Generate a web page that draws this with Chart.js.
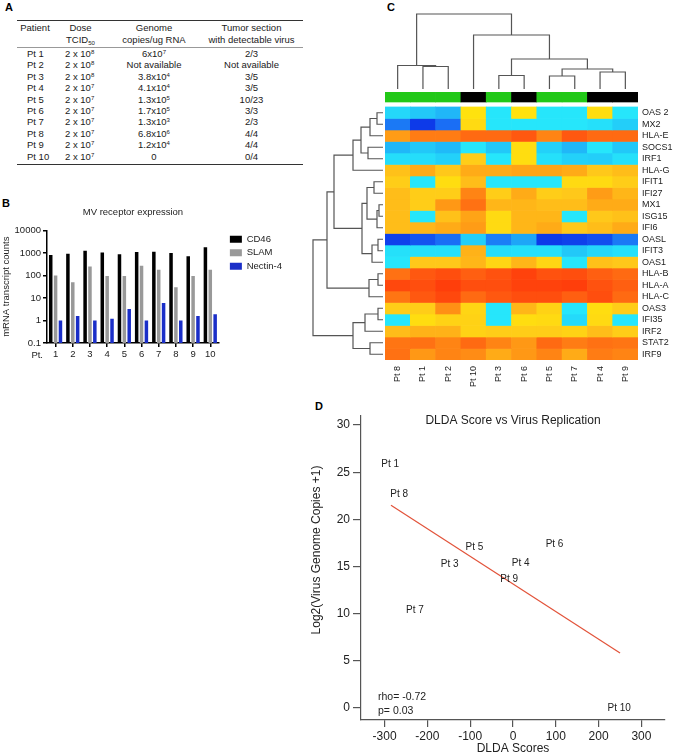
<!DOCTYPE html>
<html>
<head>
<meta charset="utf-8">
<title>Measles virus replication figure</title>
<script src="https://cdn.jsdelivr.net/npm/chart.js@4.4.1/dist/chart.umd.min.js"></script>
<style>
  body { margin: 0; background: #fff; }
  #page { position: relative; width: 675px; height: 756px; overflow: hidden; font-family: "Liberation Sans", Arial, sans-serif; color: #222; }
  #page canvas { position: absolute; }
  .panel { position: absolute; font-weight: bold; font-size: 11px; line-height: 12px; color: #000; }
  #tbl { position: absolute; left: 17px; top: 20px; width: 286px; border-collapse: collapse; font-size: 9.5px; table-layout: fixed; color: #1a1a1a; }
  #tbl th { font-weight: normal; vertical-align: top; line-height: 12px; padding: 1px 0; border-top: 1.5px solid #333; border-bottom: 1px solid #999; text-align: center; }
  #tbl td { height: 11.4px; line-height: 11.4px; padding: 0; text-align: center; white-space: nowrap; }
  #tbl td.pt { text-align: left; padding-left: 10px; }
  #tbl td.dose { text-align: left; padding-left: 12px; }
  #tbl tbody tr:last-child td { border-bottom: 1.5px solid #333; padding-bottom: 2px; }
  #tbl sup { font-size: 6px; vertical-align: 3px; line-height: 0; }
  #tbl sub { font-size: 6px; vertical-align: -2px; line-height: 0; }
</style>
</head>
<body>
<div id="page">
  <div class="panel" style="left:5px;top:1px">A</div>
  <div class="panel" style="left:2px;top:197px">B</div>
  <div class="panel" style="left:387px;top:1px">C</div>
  <div class="panel" style="left:315px;top:400px">D</div>

  <table id="tbl">
    <colgroup><col style="width:36px"><col style="width:55px"><col style="width:92px"><col style="width:103px"></colgroup>
    <thead><tr>
      <th>Patient</th>
      <th>Dose<br>TCID<sub>50</sub></th>
      <th>Genome<br>copies/ug RNA</th>
      <th>Tumor section<br>with detectable virus</th>
    </tr></thead>
    <tbody></tbody>
  </table>

  <canvas id="cB" width="285" height="163" style="left:0;top:200px"></canvas>
  <canvas id="cTop" width="253" height="77" style="left:385px;top:12px"></canvas>
  <canvas id="cLeft" width="72" height="253" style="left:311px;top:107px"></canvas>
  <canvas id="cHeat" width="290" height="300" style="left:385px;top:92px"></canvas>
  <canvas id="cD" width="375" height="351" style="left:300px;top:405px"></canvas>
</div>

<script>
// ---------- A: patient table ----------
const patients = ['Pt 1', 'Pt 2', 'Pt 3', 'Pt 4', 'Pt 5', 'Pt 6', 'Pt 7', 'Pt 8', 'Pt 9', 'Pt 10'];
const doses = ['2 x 10^8', '2 x 10^8', '2 x 10^8', '2 x 10^7', '2 x 10^7', '2 x 10^7', '2 x 10^7', '2 x 10^7', '2 x 10^7', '2 x 10^7'];
const genomeCopies = ['6x10^7', 'Not available', '3.8x10^4', '4.1x10^4', '1.3x10^5', '1.7x10^5', '1.3x10^3', '6.8x10^6', '1.2x10^4', '0'];
const tumorSections = ['2/3', 'Not available', '3/5', '3/5', '10/23', '3/3', '2/3', '4/4', '4/4', '0/4'];

// ---------- B: MV receptor expression ----------
const receptorPts = ['1', '2', '3', '4', '5', '6', '7', '8', '9', '10'];
const cd46 = [800, 920, 1250, 1050, 880, 1100, 1120, 980, 720, 1800];
const slam = [100, 50, 250, 95, 95, 270, 180, 30, 95, 180];
const nectin4 = [1.0, 1.6, 1.0, 1.2, 3.2, 1.0, 6.0, 1.0, 1.6, 1.9];
const receptorTicks = [0.1, 1, 10, 100, 1000, 10000];

// ---------- C: heatmap ----------
const hmCols = ['Pt 8', 'Pt 1', 'Pt 2', 'Pt 10', 'Pt 3', 'Pt 6', 'Pt 5', 'Pt 7', 'Pt 4', 'Pt 9'];
const hmGroup = [1, 1, 1, 0, 1, 0, 1, 1, 0, 0]; // 1 = green, 0 = black
const genes = ['OAS 2', 'MX2', 'HLA-E', 'SOCS1', 'IRF1', 'HLA-G', 'IFIT1', 'IFI27', 'MX1', 'ISG15', 'IFI6',
               'OASL', 'IFIT3', 'OAS1', 'HLA-B', 'HLA-A', 'HLA-C', 'OAS3', 'IFI35', 'IRF2', 'STAT2', 'IRF9'];
// relative expression, 0 = low (blue) .. 10 = high (red), columns in hmCols order
const heatValues = [
  [3.5, 3, 2.5, 5, 4, 5, 4, 4, 5.2, 4],            // OAS 2
  [1.2, 0.2, 1, 5.3, 4, 4, 4, 4, 3.8, 3.2],        // MX2
  [7.2, 8, 8, 8.5, 8.5, 9, 7.8, 9, 8.5, 8.5],      // HLA-E
  [2.5, 3, 2.6, 4, 3, 5.2, 3.3, 2.5, 4, 3],        // SOCS1
  [3.7, 3.7, 3.3, 5.8, 4, 5.2, 3.8, 3.3, 3.2, 3.8],// IRF1
  [6.2, 6.8, 6, 6.8, 6.8, 7, 7, 6.8, 6, 6.3],      // HLA-G
  [5.8, 4, 5.2, 6.3, 4, 4, 4, 5.3, 5.3, 5.8],      // IFIT1
  [6.3, 5.8, 5.8, 7.8, 5.8, 6.8, 5.8, 6, 7.2, 6.5],// IFI27
  [6.3, 5.8, 7.3, 8.3, 6.5, 6.5, 6.3, 6.3, 6.8, 6.8], // MX1
  [6.3, 4, 6.2, 7, 5.3, 6.5, 6.5, 4, 6, 6.2],      // ISG15
  [6.3, 6.5, 6.8, 7.2, 5.3, 6.5, 6.8, 6, 6.3, 6.8],// IFI6
  [0.3, 0.6, 1, 3.2, 1.3, 2, 0.2, 0.3, 0.5, 1.2],  // OASL
  [3.8, 3.8, 3.8, 6.6, 3.7, 3.8, 3.8, 3, 3.5, 3.8],// IFIT3
  [4, 6, 6, 6.5, 5.5, 6.5, 5.5, 4, 6.2, 6],        // OAS1
  [8.3, 9, 9.3, 8.8, 9.2, 9.7, 9.2, 9.3, 8.8, 8.5],// HLA-B
  [9.5, 9.3, 9.8, 9.3, 9.3, 9.7, 9.7, 9.8, 9.2, 8.8], // HLA-A
  [8.2, 9, 9.5, 8.5, 9, 9.3, 9.3, 8.8, 9.3, 8.5],  // HLA-C
  [5.8, 5.8, 7.5, 5.5, 4, 6.5, 5.6, 4, 5.2, 5.8],  // OAS3
  [4, 5.2, 5.6, 5.6, 4, 5.2, 5.3, 3.6, 5.3, 4],    // IFI35
  [6.3, 6.6, 6.6, 5.6, 5.8, 5.8, 5.8, 5.6, 6.3, 5.8], // IRF2
  [8.2, 8.3, 7.8, 8.5, 7.8, 7.3, 8.5, 8, 8.3, 8.2],// STAT2
  [8.3, 7.3, 7.8, 7.6, 6.8, 7.3, 7.8, 6.8, 8, 7.8] // IRF9
];
// dendrogram merges [childA, childB, height]; leaves 0..n-1, new nodes numbered from n
const topMerges = [[1, 2, 22.5], [0, 10, 23.5], [4, 5, 13.5], [6, 7, 13], [8, 9, 17],
                   [13, 14, 20], [12, 15, 30], [3, 16, 54], [11, 17, 75]];
const leftMerges = [[0, 1, 6], [22, 2, 13], [3, 4, 15], [23, 24, 22], [25, 5, 30],
                    [6, 7, 9], [8, 9, 4], [28, 10, 6], [27, 29, 16], [11, 12, 5], [31, 13, 11], [30, 32, 21],
                    [26, 33, 49], [14, 15, 5], [35, 16, 14], [34, 36, 56],
                    [17, 18, 5], [38, 19, 18], [20, 21, 13], [39, 40, 30], [37, 41, 70]];

// ---------- D: DLDA score vs virus replication ----------
const dldaPts = ['Pt 1', 'Pt 8', 'Pt 5', 'Pt 6', 'Pt 3', 'Pt 4', 'Pt 9', 'Pt 7', 'Pt 10'];
const dldaScore = [-287, -266, -90, 97, -148, 18, -9, -229, 248];
const log2Copies = [25.8, 22.7, 17.0, 17.4, 15.2, 15.3, 13.6, 10.4, 0];
const fitX = [-285, 250];
const fitY = [21.5, 5.8];
const dldaXTicks = [-300, -200, -100, 0, 100, 200, 300];
const dldaYTicks = [0, 5, 10, 15, 20, 25, 30];

const FONT = '"Liberation Sans", Arial, sans-serif';
Chart.defaults.font.family = FONT;
Chart.defaults.color = '#222';
Chart.defaults.animation = false;
Chart.defaults.responsive = false;
Chart.defaults.plugins.legend.display = false;
Chart.defaults.plugins.tooltip.enabled = false;

// table
const sup = s => s.replace(/\^(\d+)/g, '<sup>$1</sup>');
const tbody = document.querySelector('#tbl tbody');
patients.forEach((p, i) => {
  const tr = document.createElement('tr');
  tr.innerHTML = `<td class="pt">${p}</td><td class="dose">${sup(doses[i])}</td>` +
                 `<td>${sup(genomeCopies[i])}</td><td>${tumorSections[i]}</td>`;
  tbody.appendChild(tr);
});

// panel B
const ptLabel = {
  id: 'ptLabel',
  afterLayout(chart) {
    // leave a little air between the plot and the legend
    chart.legend.left += 7;
    chart.legend.right += 7;
  },
  afterDraw(chart) {
    const { ctx, chartArea } = chart;
    ctx.save();
    ctx.font = '9.5px ' + FONT;
    ctx.fillStyle = '#222';
    ctx.textAlign = 'right';
    ctx.textBaseline = 'middle';
    ctx.fillText('Pt.', chartArea.left - 4, chartArea.bottom + 12);
    ctx.restore();
  }
};

new Chart(document.getElementById('cB'), {
  type: 'bar',
  data: {
    labels: receptorPts,
    datasets: [
      { label: 'CD46', data: cd46, backgroundColor: '#000' },
      { label: 'SLAM', data: slam, backgroundColor: '#999' },
      { label: 'Nectin-4', data: nectin4, backgroundColor: '#1a2ec8' }
    ]
  },
  options: {
    datasets: { bar: { categoryPercentage: 0.85, barPercentage: 0.72 } },
    scales: {
      x: {
        grid: { offset: false, drawOnChartArea: false, tickLength: 4, color: '#000', lineWidth: 1.5 },
        border: { color: '#000', width: 1.5 },
        ticks: { font: { size: 9.5 }, padding: 2, color: '#222' },
        afterFit: s => { s.height = 20; }
      },
      y: {
        type: 'logarithmic', min: 0.1, max: 10000,
        afterBuildTicks: s => { s.ticks = receptorTicks.map(v => ({ value: v })); },
        grid: { drawOnChartArea: false, tickLength: 4, color: '#000', lineWidth: 1.5 },
        border: { color: '#000', width: 1.5 },
        ticks: { font: { size: 9.5 }, padding: 2, color: '#222', callback: v => String(v) },
        title: { display: true, text: 'mRNA transcript counts', font: { size: 9.5 }, padding: { top: 1, bottom: 0 } },
        afterFit: s => { s.width = 47; }
      }
    },
    plugins: {
      title: { display: true, text: 'MV receptor expression', fullSize: false, color: '#222',
               font: { size: 9.5, weight: 'normal' }, padding: { top: 7, bottom: 12 } },
      legend: { display: true, position: 'right', align: 'start', fullSize: false,
                labels: { boxWidth: 12, boxHeight: 7, font: { size: 9.5 }, padding: 4, color: '#222' } }
    }
  },
  plugins: [ptLabel]
});

// panel C: heatmap as stacked bars
const heatStops = [[0, [10, 45, 230]], [1, [26, 110, 245]], [2, [30, 166, 247]], [3, [34, 200, 248]],
                   [4, [38, 230, 251]], [5, [255, 226, 14]], [6, [255, 200, 26]], [7, [255, 164, 22]],
                   [8, [255, 124, 20]], [9, [255, 88, 16]], [10, [255, 56, 10]]];
function heatColor(v) {
  for (let k = 1; k < heatStops.length; k++) {
    const [v1, c1] = heatStops[k];
    if (v <= v1 || k === heatStops.length - 1) {
      const [v0, c0] = heatStops[k - 1];
      const t = Math.max(0, Math.min(1, (v - v0) / (v1 - v0)));
      return 'rgb(' + c0.map((c, j) => Math.round(c + (c1[j] - c) * t)).join(',') + ')';
    }
  }
}

const BAR_H = 0.87, GAP = 0.43;
new Chart(document.getElementById('cHeat'), {
  type: 'bar',
  data: {
    labels: hmCols,
    datasets: [
      { data: hmCols.map(() => BAR_H), backgroundColor: hmGroup.map(g => g ? '#22c818' : '#000') },
      { data: hmCols.map(() => GAP), backgroundColor: 'rgba(0,0,0,0)' },
      ...genes.map((g, i) => ({ label: g, data: hmCols.map(() => 1), backgroundColor: heatValues[i].map(heatColor) }))
    ]
  },
  options: {
    datasets: { bar: { categoryPercentage: 1, barPercentage: 1, borderWidth: 0 } },
    scales: {
      x: {
        stacked: true,
        grid: { display: false, drawTicks: false }, border: { display: false },
        ticks: { minRotation: 90, maxRotation: 90, autoSkip: false, font: { size: 9 }, padding: 6, color: '#222' },
        afterFit: s => { s.height = 32; }
      },
      y: {
        stacked: true, reverse: true, min: 0, max: BAR_H + GAP + genes.length, position: 'right',
        grid: { display: false, drawTicks: false }, border: { display: false },
        afterBuildTicks: s => { s.ticks = genes.map((g, i) => ({ value: BAR_H + GAP + i + 0.5 })); },
        ticks: { autoSkip: false, font: { size: 9 }, padding: 4, color: '#222', callback: (v, i) => genes[i] },
        afterFit: s => { s.width = 37; s.paddingTop = 0; s.paddingBottom = 0; }
      }
    }
  }
});

// dendrograms
function dendroChart(id, merges, nLeaves, vertical, maxH, reverseH) {
  const pos = [], ht = [];
  for (let i = 0; i < nLeaves; i++) { pos.push(i + 0.5); ht.push(0); }
  const datasets = merges.map(([a, b, h]) => {
    const pts = [[pos[a], ht[a]], [pos[a], h], [pos[b], h], [pos[b], ht[b]]];
    pos.push((pos[a] + pos[b]) / 2);
    ht.push(h);
    return {
      data: pts.map(([p, q]) => vertical ? { x: p, y: q } : { x: q, y: p }),
      showLine: true, pointRadius: 0, borderColor: '#555', borderWidth: 1.2, clip: false
    };
  });
  const leafAxis = { display: false, min: 0, max: nLeaves, reverse: !vertical };
  const hAxis = { display: false, min: 0, max: maxH, reverse: reverseH };
  new Chart(document.getElementById(id), {
    type: 'scatter',
    data: { datasets },
    options: { scales: vertical ? { x: leafAxis, y: hAxis } : { x: hAxis, y: leafAxis } }
  });
}
dendroChart('cTop', topMerges, hmCols.length, true, 77, false);
dendroChart('cLeft', leftMerges, genes.length, false, 72, true);

// panel D
const dldaText = {
  id: 'dldaText',
  afterDatasetsDraw(chart) {
    const { ctx, chartArea: a } = chart;
    const meta = chart.getDatasetMeta(0);
    ctx.save();
    ctx.fillStyle = '#222';
    ctx.textBaseline = 'middle';
    ctx.textAlign = 'center';
    ctx.font = '10px ' + FONT;
    meta.data.forEach((pt, i) => ctx.fillText(dldaPts[i], pt.x, pt.y));
    ctx.font = '12px ' + FONT;
    ctx.fillText('DLDA Score vs Virus Replication', (a.left + a.right) / 2, a.top + 5);
    ctx.save();
    ctx.translate(17, 550 - 405);
    ctx.rotate(-Math.PI / 2);
    ctx.fillText('Log2(Virus Genome Copies +1)', 0, 0);
    ctx.restore();
    ctx.textAlign = 'left';
    ctx.font = '10.5px ' + FONT;
    ctx.fillText('rho= -0.72', a.left + 17, a.bottom - 23);
    ctx.fillText('p= 0.03', a.left + 17, a.bottom - 9);
    ctx.restore();
  }
};

new Chart(document.getElementById('cD'), {
  type: 'scatter',
  data: {
    datasets: [
      { data: dldaScore.map((x, i) => ({ x, y: log2Copies[i] })), pointRadius: 0 },
      { data: fitX.map((x, i) => ({ x, y: fitY[i] })), showLine: true, pointRadius: 0,
        borderColor: '#e2533a', borderWidth: 1.2 }
    ]
  },
  options: {
    layout: { padding: { top: 8, right: 10 } },
    scales: {
      x: {
        type: 'linear', min: -355, max: 355,
        afterBuildTicks: s => { s.ticks = dldaXTicks.map(v => ({ value: v })); },
        grid: { drawOnChartArea: false, tickLength: 7, color: '#555', lineWidth: 1.2 },
        border: { color: '#555', width: 1.2 },
        ticks: { font: { size: 12 }, padding: 2, color: '#222' },
        title: { display: true, text: 'DLDA Scores', font: { size: 12 }, color: '#222', padding: { top: 0, bottom: 0 } },
        afterFit: s => { s.height = 36; }
      },
      y: {
        type: 'linear', min: -1.3, max: 31.05,
        afterBuildTicks: s => { s.ticks = dldaYTicks.map(v => ({ value: v })); },
        grid: { drawOnChartArea: false, tickLength: 8, color: '#555', lineWidth: 1.2 },
        border: { color: '#555', width: 1.2 },
        ticks: { font: { size: 12 }, padding: 3, color: '#222' },
        afterFit: s => { s.width = 61; }
      }
    }
  },
  plugins: [dldaText]
});
</script>
</body>
</html>
